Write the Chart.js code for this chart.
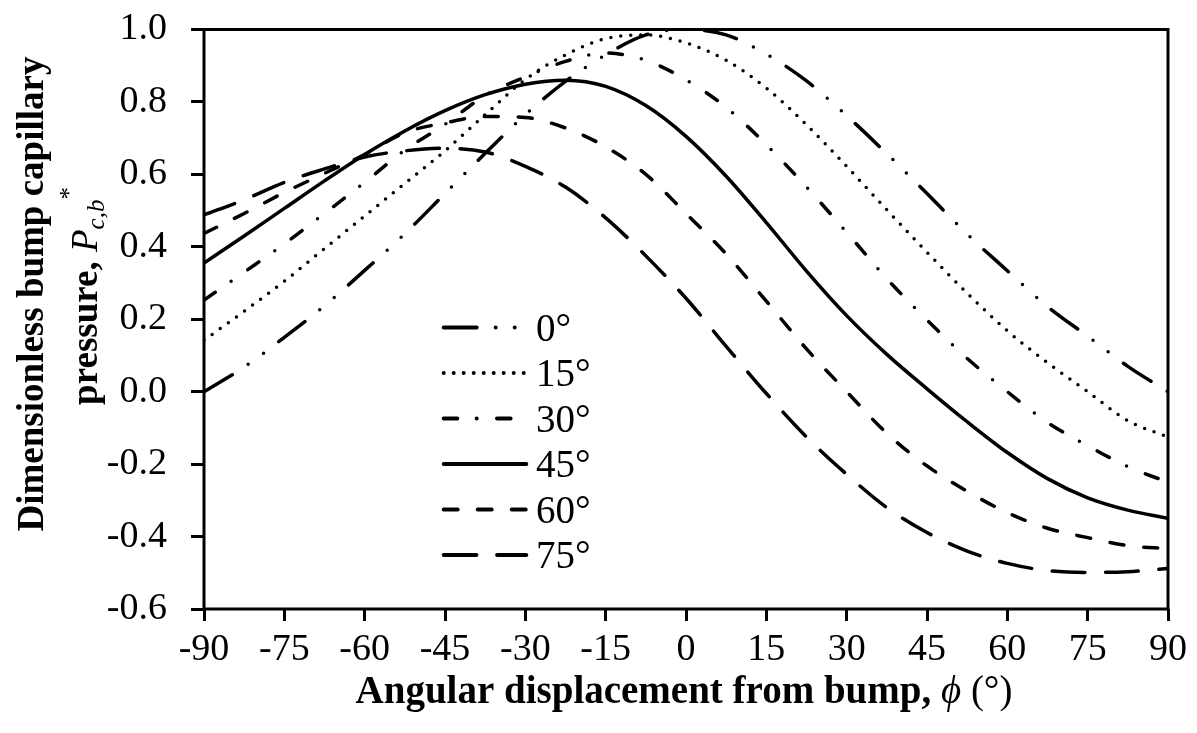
<!DOCTYPE html>
<html>
<head>
<meta charset="utf-8">
<script src="https://cdn.jsdelivr.net/npm/chart.js@4.4.1/dist/chart.umd.min.js"></script>
<style>
  html, body { margin: 0; padding: 0; background: #fff; }
</style>
</head>
<body>
<canvas id="pressure" width="1197" height="733"></canvas>
<script>
// bump capillary pressure vs angular displacement, one curve per angle

const angles = [-90, -82.5, -75, -67.5, -60, -52.5, -45, -37.5, -30, -22.5, -15, -7.5, 0,
                7.5, 15, 22.5, 30, 37.5, 45, 52.5, 60, 67.5, 75, 82.5, 90];

const p0  = [0.00, 0.068, 0.15, 0.237, 0.335, 0.436, 0.547, 0.658, 0.765, 0.857, 0.93, 0.985, 1.0,
             0.985, 0.932, 0.858, 0.762, 0.657, 0.547, 0.435, 0.334, 0.235, 0.153, 0.07, 0.0];
const p15 = [0.142, 0.222, 0.305, 0.395, 0.485, 0.575, 0.665, 0.765, 0.862, 0.93, 0.975, 0.985, 0.963,
             0.915, 0.838, 0.737, 0.622, 0.502, 0.385, 0.272, 0.168, 0.08, 0.0, -0.08, -0.125];
const p30 = [0.253, 0.33, 0.408, 0.492, 0.578, 0.667, 0.738, 0.818, 0.869, 0.912, 0.935, 0.915, 0.861,
             0.785, 0.682, 0.565, 0.44, 0.312, 0.198, 0.092, 0.0, -0.085, -0.149, -0.207, -0.25];
const p45 = [0.355, 0.43, 0.506, 0.582, 0.655, 0.72, 0.776, 0.82, 0.849, 0.86, 0.843, 0.79, 0.705,
             0.595, 0.467, 0.333, 0.21, 0.103, 0.008, -0.083, -0.168, -0.24, -0.293, -0.327, -0.35];
const p60 = [0.437, 0.492, 0.55, 0.603, 0.655, 0.715, 0.742, 0.76, 0.757, 0.728, 0.676, 0.6, 0.492,
             0.38, 0.25, 0.118, 0.0, -0.115, -0.205, -0.275, -0.334, -0.377, -0.403, -0.425, -0.433];
const p75 = [0.488, 0.53, 0.578, 0.615, 0.648, 0.665, 0.672, 0.662, 0.622, 0.565, 0.48, 0.375, 0.258,
             0.125, -0.005, -0.125, -0.228, -0.32, -0.389, -0.44, -0.474, -0.494, -0.499, -0.497, -0.488];

const seriesNames = ['0°', '15°', '30°', '45°', '60°', '75°'];
const xTicks = [-90, -75, -60, -45, -30, -15, 0, 15, 30, 45, 60, 75, 90];
const yTicks = [-0.6, -0.4, -0.2, 0.0, 0.2, 0.4, 0.6, 0.8, 1.0];

const serif = "'Liberation Serif', 'Times New Roman', serif";

function points(vals) {
    return angles.map((a, i) => ({ x: a, y: vals[i] }));
}

function curve(name, vals, dash) {
    return {
        label: name,
        data: points(vals),
        borderColor: '#000',
        borderWidth: 3.5,
        borderDash: dash,
        borderCapStyle: 'round',
        pointRadius: 0,
        cubicInterpolationMode: 'monotone',
        fill: false
    };
}

// draw text made of runs with different fonts, centred on (0,0)
function drawRuns(ctx, runs) {
    let total = 0;
    runs.forEach(r => { ctx.font = r.font; r.w = ctx.measureText(r.text).width; total += r.w; });
    let x = -total / 2;
    runs.forEach(r => {
        ctx.font = r.font;
        ctx.fillText(r.text, x, r.dy || 0);
        x += r.w;
    });
}

const framePlugin = {
    id: 'frame',
    afterDraw(chart) {
        const ctx = chart.ctx;
        const a = chart.chartArea;
        ctx.save();
        ctx.strokeStyle = '#000';
        ctx.lineWidth = 3;
        ctx.strokeRect(a.left, a.top, a.right - a.left, a.bottom - a.top);
        ctx.restore();
    }
};

const legendPlugin = {
    id: 'innerLegend',
    afterDraw(chart) {
        const ctx = chart.ctx;
        ctx.save();
        chart.data.datasets.forEach((ds, i) => {
            const y = 327.5 + i * 45.5;
            ctx.strokeStyle = '#000';
            ctx.lineWidth = 4;
            ctx.lineCap = 'round';
            ctx.setLineDash(ds.borderDash || []);
            ctx.beginPath();
            ctx.moveTo(443.7, y);
            ctx.lineTo(526.3, y);
            ctx.stroke();
            ctx.setLineDash([]);
            ctx.fillStyle = '#000';
            ctx.font = '39px ' + serif;
            ctx.textAlign = 'left';
            ctx.textBaseline = 'alphabetic';
            ctx.fillText(ds.label, 536, y + 13);
        });
        ctx.restore();
    }
};

const titlePlugin = {
    id: 'axisTitles',
    afterDraw(chart) {
        const ctx = chart.ctx;
        ctx.save();
        ctx.fillStyle = '#000';
        ctx.textAlign = 'left';
        ctx.textBaseline = 'alphabetic';

        // x title
        ctx.save();
        ctx.translate(684, 703);
        drawRuns(ctx, [
            { text: 'Angular displacement from bump, ', font: 'bold 39px ' + serif },
            { text: '\u03D5', font: 'italic 39px ' + serif },
            { text: ' (°)', font: '39px ' + serif }
        ]);
        ctx.restore();

        // y title, two lines
        ctx.save();
        ctx.translate(43, 294);
        ctx.rotate(-Math.PI / 2);
        drawRuns(ctx, [{ text: 'Dimensionless bump capillary', font: 'bold 37px ' + serif }]);
        ctx.restore();

        ctx.save();
        ctx.translate(97, 296);
        ctx.rotate(-Math.PI / 2);
        drawRuns(ctx, [
            { text: 'pressure, ', font: 'bold 37px ' + serif },
            { text: 'P', font: 'italic 37px ' + serif },
            { text: 'c,b', font: 'italic 25px ' + serif, dy: 7 },
            { text: '*', font: '25px ' + serif, dy: -20 }
        ]);
        ctx.restore();

        ctx.restore();
    }
};

const ctx = document.getElementById('pressure').getContext('2d');
const pressureChart = new Chart(ctx, {
    type: 'line',
    data: {
        datasets: [
            curve(seriesNames[0], p0, [33, 19, 0, 19, 0, 19]),
            curve(seriesNames[1], p15, [0, 10]),
            curve(seriesNames[2], p30, [13.6, 19.4, 0, 20.3]),
            curve(seriesNames[3], p45, []),
            curve(seriesNames[4], p60, [14, 20]),
            curve(seriesNames[5], p75, [32.7, 20.7])
        ]
    },
    options: {
        responsive: false,
        animation: false,
        layout: { padding: { top: 29.5, right: 29, left: 0, bottom: 0 } },
        plugins: {
            legend: { display: false },
            tooltip: { enabled: false }
        },
        scales: {
            x: {
                type: 'linear',
                min: -90,
                max: 90,
                afterFit: s => { s.height = 124; s.paddingLeft = 0; s.paddingRight = 0; },
                afterBuildTicks: s => { s.ticks = xTicks.map(v => ({ value: v })); },
                ticks: {
                    autoSkip: false,
                    maxRotation: 0,
                    color: '#000',
                    padding: 6,
                    font: { family: serif, size: 38 },
                    callback: v => String(v)
                },
                grid: { drawOnChartArea: false, drawTicks: true, tickLength: 12, lineWidth: 3, color: '#000' },
                border: { display: false }
            },
            y: {
                min: -0.6,
                max: 1.0,
                afterFit: s => { s.width = 204; s.paddingTop = 0; s.paddingBottom = 0; },
                afterBuildTicks: s => { s.ticks = yTicks.map(v => ({ value: v })); },
                ticks: {
                    color: '#000',
                    padding: 24,
                    font: { family: serif, size: 38 },
                    callback: v => (Math.abs(v) < 1e-9 ? 0 : v).toFixed(1)
                },
                grid: { drawOnChartArea: false, drawTicks: true, tickLength: 13, lineWidth: 3, color: '#000' },
                border: { display: false }
            }
        }
    },
    plugins: [framePlugin, legendPlugin, titlePlugin]
});
</script>
</body>
</html>
